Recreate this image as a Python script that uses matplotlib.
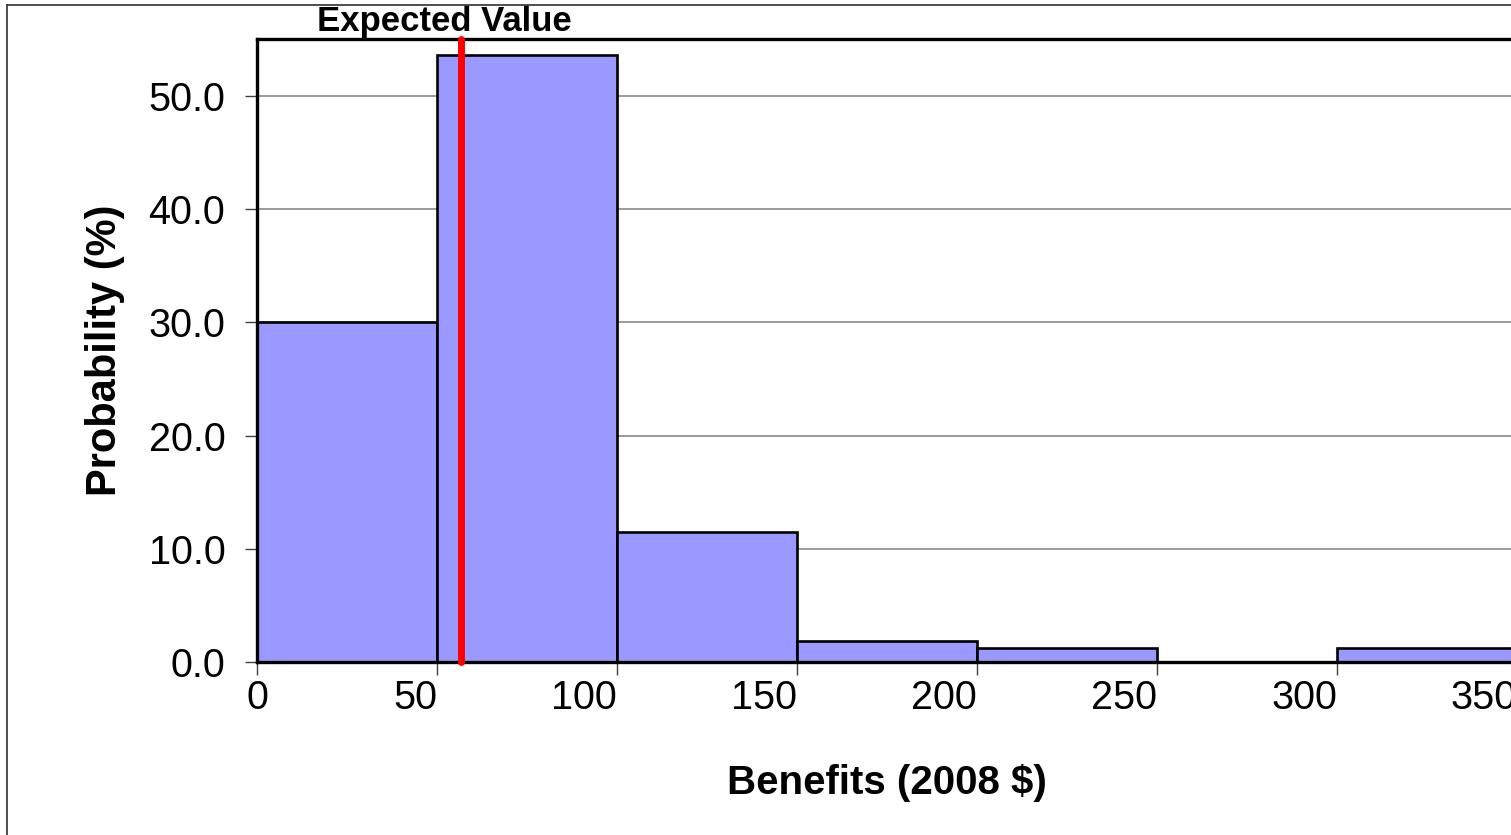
import matplotlib
matplotlib.use('Agg')
import matplotlib.pyplot as plt
from matplotlib.lines import Line2D

plt.rcParams['font.family'] = ['Liberation Sans', 'DejaVu Sans']

# histogram of simulated benefits, 50-dollar bins
bin_edges = [0, 50, 100, 150, 200, 250, 300, 350]
probability = [30.0, 53.6, 11.5, 1.9, 1.3, 0.0, 1.3]
expected_value = 56.5
x_ticks = [0, 50, 100, 150, 200, 250, 300, 350]
y_ticks = [0, 10, 20, 30, 40, 50]

W, H = 1511, 835
fig = plt.figure(figsize=(W / 100, H / 100), dpi=100)

# plot area runs off the right edge of the canvas
left, right, top, bottom = 257.3, 1517.0, 39.0, 662.3
ax = fig.add_axes([left / W, 1 - bottom / H, (right - left) / W, (bottom - top) / H])

widths = [b - a for a, b in zip(bin_edges[:-1], bin_edges[1:])]
ax.bar(bin_edges[:-1], probability, width=widths, align='edge',
       color='#9999FF', edgecolor='black', linewidth=1.9, zorder=2)

ax.set_xlim(bin_edges[0], bin_edges[-1])
ax.set_ylim(0, 55)

ax.set_yticks(y_ticks)
ax.set_yticklabels([f'{v:.1f}' for v in y_ticks])
ax.set_xticks(x_ticks)
ax.set_xticklabels([str(v) for v in x_ticks])
for i, lab in enumerate(ax.get_xticklabels()):
    if i > 0:
        lab.set_ha('right')

ax.tick_params(axis='y', direction='out', length=9, width=1, color='#404040',
               labelsize=28.5, pad=14)
ax.tick_params(axis='x', direction='out', length=9, width=1, color='#404040',
               labelsize=28.5, pad=3)

ax.grid(axis='y', color='#808080', linewidth=1.1, zorder=0)
ax.set_axisbelow(True)

for side in ['top', 'left', 'bottom']:
    ax.spines[side].set_linewidth(2.4)
    ax.spines[side].set_color('black')
ax.spines['right'].set_visible(False)
ax.spines['bottom'].set_zorder(3)

# expected value marker
ax.plot([expected_value, expected_value], [0, 55], color='#FF0000',
        linewidth=5, solid_capstyle='round', zorder=4, clip_on=False)
ax.annotate('Expected Value', xy=(expected_value, 55), xytext=(-12, 1),
            textcoords='offset points', ha='center', va='bottom',
            fontsize=25, fontweight='bold')

ax.set_xlabel('Benefits (2008 $)', fontsize=29, fontweight='bold', va='center')
ax.xaxis.set_label_coords(0.5, (bottom - 783) / (bottom - top))
ax.set_ylabel('Probability (%)', fontsize=30, fontweight='bold', va='center')
ax.yaxis.set_label_coords((105 - left) / (right - left), 0.5)

# outer chart border
fig.add_artist(Line2D([7 / W, 7 / W], [0, 1 - 5 / H], transform=fig.transFigure,
                      color='#404040', linewidth=1.3))
fig.add_artist(Line2D([7 / W, 1], [1 - 5 / H, 1 - 5 / H], transform=fig.transFigure,
                      color='#404040', linewidth=1.3))

fig.savefig('out.png', dpi=100)
